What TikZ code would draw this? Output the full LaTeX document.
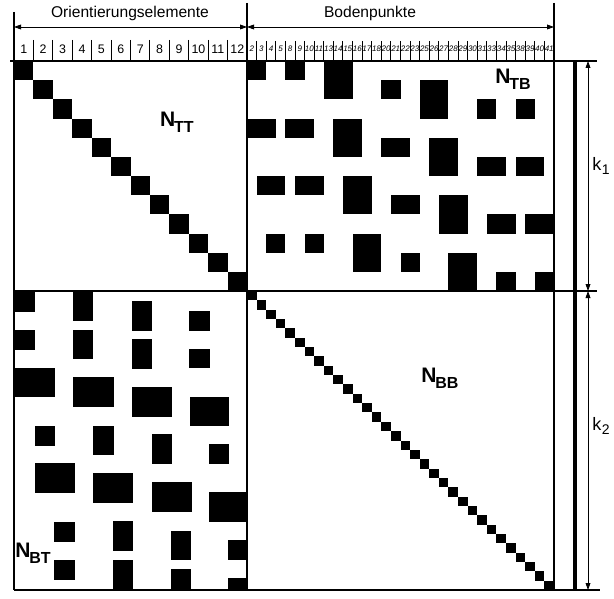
\documentclass[tikz,border=0pt]{standalone}
\usepackage{fontspec}
\setmainfont{Liberation Sans}
\usetikzlibrary{arrows.meta}

% N with a lowered bold index, as drawn on the sheet
\newcommand{\nidx}[2]{#1\kern-0.6pt\raisebox{-2.8pt}{\fontsize{8}{8}\selectfont #2}}
\newcommand{\kidx}[2]{#1\kern0.2pt\raisebox{-2.2pt}{\fontsize{7}{7}\selectfont #2}}

\begin{document}
\begin{tikzpicture}[x=0.5pt,y=-0.5pt,
		frm/.style = {line width=0.9pt},
		thn/.style = {line width=0.45pt},
		heavy/.style = {line width=1.8pt},
		dm/.style = {{Triangle[length=3.5pt,width=2.4pt]}-{Triangle[length=3.5pt,width=2.4pt]}, line width=0.4pt},
		ttl/.style = {inner sep=0pt, font=\fontsize{7.8}{8}\selectfont},
		hnum/.style = {inner sep=0pt, font=\fontsize{6.2}{6}\selectfont},
		pnum/.style = {inner sep=0pt, font=\itshape\fontsize{4}{4}\selectfont},
		nlab/.style = {inner sep=0pt, font=\bfseries\fontsize{10.5}{11}\selectfont},
		klab/.style = {inner sep=0pt, font=\fontsize{9}{10}\selectfont},
		]
		\useasboundingbox (0,0) rectangle (614,598);
		
		%Points
		\coordinate (oL) at (14,27);
		\coordinate (oM) at (247,27);
		\coordinate (oR) at (554,27);
		\coordinate (kT) at (588,61);
		\coordinate (kM) at (588,291);
		\coordinate (kB) at (588,590);
		
		%Headings
		\node[ttl]	(ori)	at (130,13)	{Orientierungselemente};
		\node[ttl]	(bod)	at (370,13)	{Bodenpunkte};
		\foreach \i in {1,...,12}
			\node[hnum] (h\i) at (14+19.42*\i-9.71,49) {\i};
		\foreach \lb [count=\j] in {2,3,4,5,8,9,10,11,13,14,15,16,17,18,20,21,22,23,25,26,27,28,29,30,31,33,34,35,38,39,40,41}
			\node[pnum] (p\j) at (247+9.594*\j-4.797,49) {\lb};
		
		%Blocks
		\foreach \i in {0,...,11}
			\fill (14+19.42*\i,61+19.17*\i) rectangle ++(19.42,19.17);
		\foreach \i in {0,...,31}
			\fill (247+9.594*\i,291+9.344*\i) rectangle ++(9.594,9.344);
		\foreach \ca/\cb/\ra/\rb in {0/2/0/1, 4/6/0/1, 8/11/0/2, 14/16/1/2, 18/21/1/3, 24/26/2/3, 28/30/2/3,
				0/3/3/4, 4/7/3/4, 9/12/3/5, 14/17/4/5, 19/22/4/6, 24/27/5/6, 28/31/5/6,
				1/4/6/7, 5/8/6/7, 10/13/6/8, 15/18/7/8, 20/23/7/9, 25/28/8/9, 29/32/8/9,
				2/4/9/10, 6/8/9/10, 11/14/9/11, 16/18/10/11, 21/24/10/12, 26/28/11/12, 30/32/11/12}
			\fill (247+9.594*\ca,61+19.17*\ra) rectangle (247+9.594*\cb,61+19.17*\rb);
		\foreach \xa/\xb/\ya/\yb in {14/35/292/312, 14/35/330/350, 14/55/368/397, 35/55/426/446, 35/75/463/493, 54/75/522/542, 54/75/560/580,
				73/93/292/321, 73/93/330/359, 73/114/377/407, 93/114/426/455, 93/133/473/503, 113/133/521/551, 113/133/560/589,
				132/152/301/331, 132/152/339/369, 132/172/387/417, 152/172/434/464, 152/192/482/512, 171/191/531/560, 171/191/569/590,
				189/210/311/331, 189/210/349/368, 190/229/397/426, 209/229/444/464, 209/247/492/522, 228/247/540/560, 228/247/578/590}
			\fill (\xa,\ya) rectangle (\xb,\yb);
		
		%Lines
		\foreach \i in {1,...,11}
			\draw[thn] (14+19.42*\i,40) -- (14+19.42*\i,61);
		\foreach \i in {1,...,31}
			\draw[thn] (247+9.594*\i,41) -- (247+9.594*\i,61);
		\draw[frm]	(14,12) -- (14,590);
		\draw[frm]	(247,3) -- (247,590);
		\draw[frm]	(554,3) -- (554,590);
		\draw[frm]	(10,61) -- (597,61);
		\draw[frm]	(14,291) -- (597,291);
		\draw[frm]	(14,590) -- (600,590);
		\draw[heavy]	(575,61) -- (575,590);
		
		%Dimensions
		\draw[dm]	(oL) -- (oM);
		\draw[dm]	(oM) -- (oR);
		\draw[dm]	(kT) -- (kM);
		\draw[dm]	(kM) -- (kB);
		
		%Labels
		\node[nlab]	(ntt)	at (177,122)	{\nidx{N}{TT}};
		\node[nlab]	(ntb)	at (513,79)	{\nidx{N}{TB}};
		\node[nlab]	(nbb)	at (440,378)	{\nidx{N}{BB}};
		\node[nlab]	(nbt)	at (33,553)	{\nidx{N}{BT}};
		\node[klab]	(k1)	at (601,166)	{\kidx{k}{1}};
		\node[klab]	(k2)	at (601,426)	{\kidx{k}{2}};
	\end{tikzpicture}
\end{document}
